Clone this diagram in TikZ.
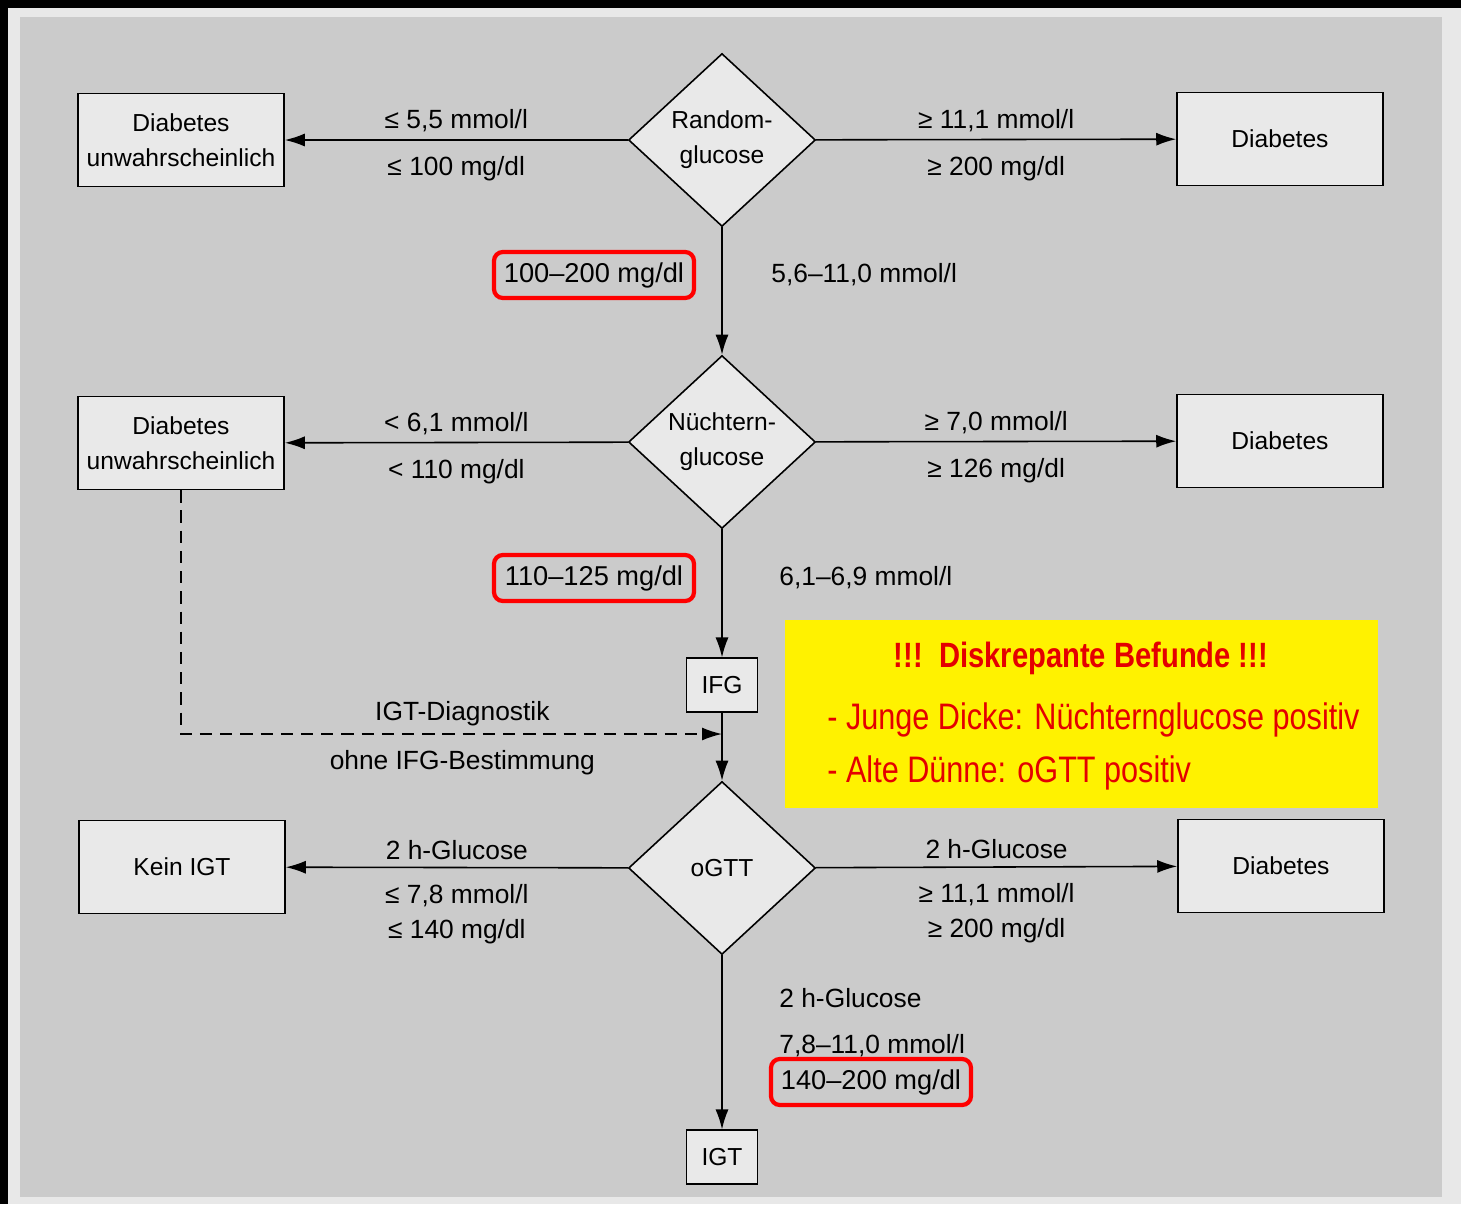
\documentclass[tikz,border=0pt]{standalone}
\usepackage{fontspec}
\setmainfont{Liberation Sans}
\newfontfamily\notefont[FakeStretch=0.83]{Liberation Sans}
\usetikzlibrary{positioning, shapes.geometric, arrows.meta, calc}

\definecolor{pagegray}{RGB}{203,203,203}
\definecolor{rimgray}{RGB}{232,232,232}
\definecolor{boxfill}{RGB}{233,233,233}
\definecolor{notered}{RGB}{228,0,0}

\tikzset{
  outcome/.style={draw, line width=0.9pt, fill=boxfill, minimum width=4.12cm, minimum height=1.86cm, align=center, font=\fontsize{14}{20}\selectfont},
  result/.style={draw, line width=0.9pt, fill=boxfill, minimum width=1.42cm, minimum height=1.07cm, inner sep=2pt, font=\fontsize{14}{20}\selectfont},
  decision/.style={diamond, draw, line width=0.9pt, fill=boxfill, minimum width=3.74cm, minimum height=3.46cm, inner sep=0pt, align=center, font=\fontsize{14}{20}\selectfont},
  flow/.style={line width=0.9pt, -{Latex[length=4mm, width=2.6mm]}},
  cond/.style={font=\fontsize{15}{20}\selectfont, inner sep=4pt, align=center},
  condlo/.style={cond, below=5pt},
  redmark/.style={draw=red, line width=2.4pt, rounded corners=5pt, minimum width=4.0cm, minimum height=0.92cm, inner sep=2pt, font=\fontsize{15.5}{20}\selectfont}
}

\begin{document}
\begin{tikzpicture}[x=0.02cm, y=-0.02cm]
  \useasboundingbox (0,0) rectangle (1461,1204);
  % Page
  \fill[black] (0,0) rectangle (1461,1204);
  \fill[rimgray] (8,8) rectangle (1461,1204);
  \fill[pagegray] (20,17) rectangle (1442,1197);

  % Decisions
  \node[decision] (random) at (722,140) {Random-\\glucose};
  \node[decision] (fasting) at (722,442) {Nüchtern-\\glucose};
  \node[decision] (ogtt) at (722,868) {oGTT};

  % Outcomes
  \node[outcome] (unlikelyA) at (181,140) {Diabetes\\unwahrscheinlich};
  \node[outcome] (diabA) at (1280,139) {Diabetes};
  \node[outcome] (unlikelyB) at (181,443) {Diabetes\\unwahrscheinlich};
  \node[outcome] (diabB) at (1280,441) {Diabetes};
  \node[outcome] (noigt) at (182,867) {Kein IGT};
  \node[outcome] (diabC) at (1281,866) {Diabetes};
  \node[result] (ifg) at (722,685) {IFG};
  \node[result] (igt) at (722,1157) {IGT};
  \coordinate (join) at (722,734);

  % Arrows
  \draw[flow] (random) -- (unlikelyA)
    node[cond, midway, above] {≤ 5,5 mmol/l}
    node[condlo, midway] {≤ 100 mg/dl};
  \draw[flow] (random) -- (diabA)
    node[cond, midway, above] {≥ 11,1 mmol/l}
    node[condlo, midway] {≥ 200 mg/dl};
  \draw[flow] (fasting) -- (unlikelyB)
    node[cond, midway, above] {< 6,1 mmol/l}
    node[condlo, midway] {< 110 mg/dl};
  \draw[flow] (fasting) -- (diabB)
    node[cond, midway, above] {≥ 7,0 mmol/l}
    node[condlo, midway] {≥ 126 mg/dl};
  \draw[flow] (ogtt) -- (noigt)
    node[cond, midway, above] {2 h-Glucose}
    node[condlo, midway] {≤ 7,8 mmol/l\\≤ 140 mg/dl};
  \draw[flow] (ogtt) -- (diabC)
    node[cond, midway, above] {2 h-Glucose}
    node[condlo, midway] {≥ 11,1 mmol/l\\≥ 200 mg/dl};
  \draw[flow] (random) -- (fasting);
  \draw[flow] (fasting) -- (ifg);
  \draw[flow] (ifg) -- (ogtt);
  \draw[flow] (ogtt) -- (igt);
  \draw[flow, dash pattern=on 7pt off 4.5pt] (unlikelyB.south) |- (join)
    node[cond, pos=0.76, above] {IGT-Diagnostik}
    node[condlo, pos=0.76] {ohne IFG-Bestimmung};

  % Ranges
  \node[redmark] (rangeA) at (594,275) {100--200 mg/dl};
  \node[cond, anchor=west] (mmolA) at (764,275) {5,6--11,0 mmol/l};
  \node[redmark] (rangeB) at (594,578) {110--125 mg/dl};
  \node[cond, anchor=west] (mmolB) at (772,578) {6,1--6,9 mmol/l};
  \node[cond, anchor=west] (hourC) at (772,998) {2 h-Glucose};
  \node[cond, anchor=west] (mmolC) at (772,1046) {7,8--11,0 mmol/l};
  \node[redmark] (rangeC) at (871,1082) {140--200 mg/dl};

  % Note
  \node[fill=yellow, minimum width=11.86cm, minimum height=3.76cm] (note) at (1081.5,714) {};
  \node[text=notered, font=\notefont\bfseries\fontsize{20}{24}\selectfont] (notetitle) at (1081,658) {!!!\ \ Diskrepante Befunde !!!};
  \node[text=notered, font=\notefont\fontsize{21}{24}\selectfont, anchor=west, inner sep=0pt] (young) at (827,720) {- Junge Dicke: Nüchternglucose positiv};
  \node[text=notered, font=\notefont\fontsize{21}{24}\selectfont, anchor=west, inner sep=0pt] (old) at (827,773) {- Alte Dünne: oGTT positiv};
\end{tikzpicture}
\end{document}
